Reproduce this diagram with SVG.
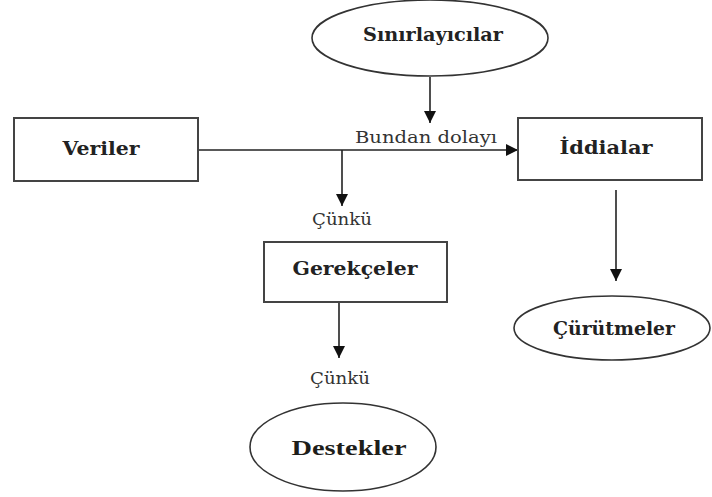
<svg xmlns="http://www.w3.org/2000/svg" width="712" height="497" viewBox="0 0 712 497">
<style>
.box{fill:#fff;stroke:#444;stroke-width:2}
.ell{fill:#fff;stroke:#333;stroke-width:1.6}
.lbl{font-family:"DejaVu Serif","Liberation Serif",serif;font-weight:bold;font-size:19px;fill:#222;text-anchor:middle}
.lbl2{font-family:"Liberation Serif","DejaVu Serif",serif;font-weight:bold;font-size:22px;fill:#1e1e1a;text-anchor:middle}
.sm{font-family:"DejaVu Serif","Liberation Serif",serif;font-size:16px;fill:#333;text-anchor:middle}
.ln{fill:none;stroke:#222;stroke-width:1.6}
</style>
<defs>
<marker id="ah" viewBox="0 0 10 10" refX="10" refY="5" markerWidth="12" markerHeight="12" markerUnits="userSpaceOnUse" orient="auto">
<path d="M0,0 L10,5 L0,10 z" fill="#111"/>
</marker>
</defs>
<rect width="712" height="497" fill="#fff"/>
<g id="connectors">
<line class="ln" x1="430" y1="77" x2="430" y2="123" marker-end="url(#ah)"/>
<line class="ln" x1="198" y1="150" x2="518" y2="150" marker-end="url(#ah)"/>
<line class="ln" x1="342" y1="150" x2="342" y2="206" marker-end="url(#ah)"/>
<line class="ln" x1="616" y1="190" x2="616" y2="281" marker-end="url(#ah)"/>
<line class="ln" x1="339" y1="302" x2="339" y2="358" marker-end="url(#ah)"/>
<text class="sm" x="426" y="143" textLength="142" lengthAdjust="spacingAndGlyphs">Bundan dolayı</text>
<text class="sm" x="342" y="225" textLength="60" lengthAdjust="spacingAndGlyphs">Çünkü</text>
<text class="sm" x="340" y="384" textLength="60" lengthAdjust="spacingAndGlyphs">Çünkü</text>
</g>
<g id="sinirlayicilar">
<ellipse class="ell" cx="430" cy="38" rx="118" ry="38"/>
<text class="lbl" x="433" y="41" textLength="140" lengthAdjust="spacingAndGlyphs">Sınırlayıcılar</text>
</g>
<g id="veriler">
<rect class="box" x="14" y="118" width="184" height="63"/>
<text class="lbl" x="101" y="155" textLength="77" lengthAdjust="spacingAndGlyphs">Veriler</text>
</g>
<g id="iddialar">
<rect class="box" x="518" y="118" width="184" height="62"/>
<text class="lbl" x="606" y="154" textLength="93" lengthAdjust="spacingAndGlyphs">İddialar</text>
</g>
<g id="gerekceler">
<rect class="box" x="264" y="242" width="183" height="60"/>
<text class="lbl" x="355" y="275" textLength="125" lengthAdjust="spacingAndGlyphs">Gerekçeler</text>
</g>
<g id="curutmeler">
<ellipse class="ell" cx="612" cy="328" rx="98" ry="32"/>
<text class="lbl" x="614" y="335" textLength="122" lengthAdjust="spacingAndGlyphs">Çürütmeler</text>
</g>
<g id="destekler">
<ellipse class="ell" cx="343" cy="447" rx="93" ry="44"/>
<text class="lbl2" x="349" y="455" textLength="115" lengthAdjust="spacingAndGlyphs">Destekler</text>
</g>
</svg>
